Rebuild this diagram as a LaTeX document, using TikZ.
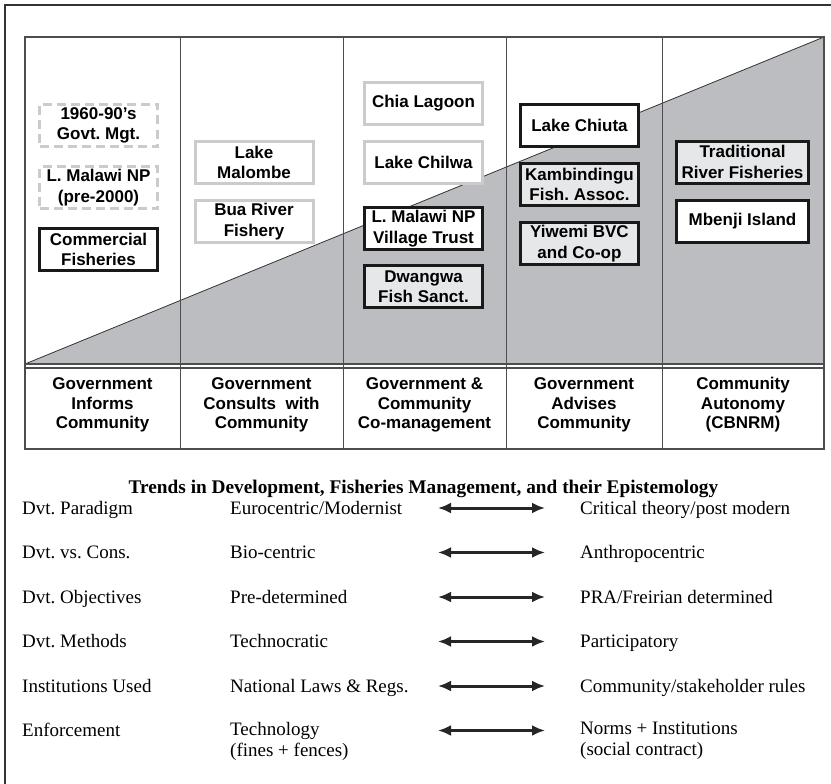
\documentclass[tikz,border=0pt]{standalone}
\usepackage{fontspec}
\setmainfont{Liberation Serif}
\setsansfont{Liberation Sans}
\usepackage{xcolor}
\usepackage{tikz}
\usetikzlibrary{shapes,arrows,arrows.meta,positioning}
\frenchspacing
\definecolor{softline}{HTML}{CBCBCB}
\definecolor{softfill}{HTML}{E6E7E8}
\definecolor{wedgegray}{HTML}{BCBDC0}
\definecolor{rulegray}{HTML}{4D4D4D}
\tikzset{
  block/.style={
    rectangle,
    line width=3pt,
    minimum width=118pt,
    minimum height=42pt,
    inner sep=0pt,
    align=center,
    fill=white,
    font=\sffamily\bfseries\fontsize{17}{20.5}\selectfont
  },
  oldblock/.style={
    block,
    draw=softline,
    dash pattern=on 9pt off 5pt
  },
  softblock/.style={
    block,
    draw=softline
  },
  keyblock/.style={
    block,
    draw=black!90
  },
  greyblock/.style={
    keyblock,
    fill=softfill
  },
  stage/.style={
    align=center,
    font=\sffamily\bfseries\fontsize{17}{19.5}\selectfont
  },
  trend/.style={
    anchor=base west,
    inner sep=0pt,
    align=left,
    font=\fontsize{19}{21}\selectfont
  },
  arrow/.style={
    {Latex[length=13pt,width=11pt]}-{Latex[length=13pt,width=11pt]},
    line width=3pt,
    black!85
  }
}
\begin{document}
\begin{tikzpicture}[x=1pt,y=-1pt]
\useasboundingbox (0,0) rectangle (831,784);

% frame
\draw[line width=1.5pt, black!80] (831,5) -- (5,5) -- (5,784);

% table and wedge
\fill[wedgegray] (25,364) -- (824,37) -- (824,364) -- cycle;
\draw[line width=0.8pt, black!80] (25,364) -- (824,37);
\draw[line width=1.2pt, rulegray] (25,37) rectangle (824,449);
\draw[line width=1.2pt, rulegray] (25,364) -- (824,364);
\draw[line width=1.2pt, rulegray] (25,368) -- (824,368);
\draw[line width=1pt, rulegray] (180,37) -- (180,449);
\draw[line width=1pt, rulegray] (343,37) -- (343,449);
\draw[line width=1pt, rulegray] (506,37) -- (506,449);
\draw[line width=1pt, rulegray] (662,37) -- (662,449);

% column 1
\node[oldblock] (govt) at (98.5,125.5) {1960-90's\\Govt. Mgt.};
\node[oldblock, below=17pt of govt] (lmnpold) {L. Malawi NP\\(pre-2000)};
\node[keyblock, below=17pt of lmnpold] (commercial) {Commercial\\Fisheries};

% column 2
\node[softblock] (malombe) at (254,162.5) {Lake\\Malombe};
\node[softblock, below=14pt of malombe] (bua) {Bua River\\Fishery};

% column 3
\node[softblock] (chia) at (423.5,103.5) {Chia Lagoon};
\node[softblock, below=14pt of chia] (chilwa) {Lake Chilwa};
\node[keyblock, below=21pt of chilwa] (trust) {L. Malawi NP\\Village Trust};
\node[greyblock, below=13pt of trust] (dwangwa) {Dwangwa\\Fish Sanct.};

% column 4
\node[keyblock] (chiuta) at (579.5,125.5) {Lake Chiuta};
\node[greyblock, below=14pt of chiuta] (kambi) {Kambindingu\\Fish. Assoc.};
\node[greyblock, below=14pt of kambi] (yiwemi) {Yiwemi BVC\\and Co-op};

% column 5
\node[greyblock, minimum width=132pt] (river) at (742.5,162) {Traditional\\River Fisheries};
\node[keyblock, minimum width=132pt, below=14pt of river] (mbenji) {Mbenji Island};

% stages
\node[stage] (informs) at (102.5,405) {Government\\Informs\\Community};
\node[stage] (consults) at (261.5,405) {Government\\Consults\ \ with\\Community};
\node[stage] (comgt) at (424.5,405) {Government \&\\Community\\Co-management};
\node[stage] (advises) at (584,405) {Government\\Advises\\Community};
\node[stage] (autonomy) at (743,405) {Community\\Autonomy\\(CBNRM)};

% trends
\node[anchor=base, inner sep=0pt, font=\bfseries\fontsize{19.3}{21}\selectfont] (title) at (423.5,493) {Trends in Development, Fisheries Management, and their Epistemology};

\node[trend] (para) at (22,514) {Dvt. Paradigm};
\node[trend] (paraL) at (230,514) {Eurocentric/Modernist};
\node[trend] (paraR) at (580,514) {Critical theory/post modern};
\coordinate (paraA) at (438,508);
\coordinate (paraB) at (545,508);

\node[trend] (cons) at (22,558.5) {Dvt. vs. Cons.};
\node[trend] (consL) at (230,558.5) {Bio-centric};
\node[trend] (consR) at (580,558.5) {Anthropocentric};
\coordinate (consA) at (438,552.5);
\coordinate (consB) at (545,552.5);

\node[trend] (obj) at (22,603) {Dvt. Objectives};
\node[trend] (objL) at (230,603) {Pre-determined};
\node[trend] (objR) at (580,603) {PRA/Freirian determined};
\coordinate (objA) at (438,597);
\coordinate (objB) at (545,597);

\node[trend] (meth) at (22,647.5) {Dvt. Methods};
\node[trend] (methL) at (230,647.5) {Technocratic};
\node[trend] (methR) at (580,647.5) {Participatory};
\coordinate (methA) at (438,641.5);
\coordinate (methB) at (545,641.5);

\node[trend] (inst) at (22,692) {Institutions Used};
\node[trend] (instL) at (230,692) {National Laws \& Regs.};
\node[trend] (instR) at (580,692) {Community/stakeholder rules};
\coordinate (instA) at (438,686);
\coordinate (instB) at (545,686);

\node[trend] (enf) at (22,736.5) {Enforcement};
\node[trend, anchor=north west] (enfL) at (230,722) {Technology\\(fines + fences)};
\node[trend, anchor=north west] (enfR) at (580,722) {Norms + Institutions\\(social contract)};
\coordinate (enfA) at (438,730.5);
\coordinate (enfB) at (545,730.5);

\draw[arrow] (paraA) -- (paraB);
\draw[arrow] (consA) -- (consB);
\draw[arrow] (objA) -- (objB);
\draw[arrow] (methA) -- (methB);
\draw[arrow] (instA) -- (instB);
\draw[arrow] (enfA) -- (enfB);

\end{tikzpicture}
\end{document}
